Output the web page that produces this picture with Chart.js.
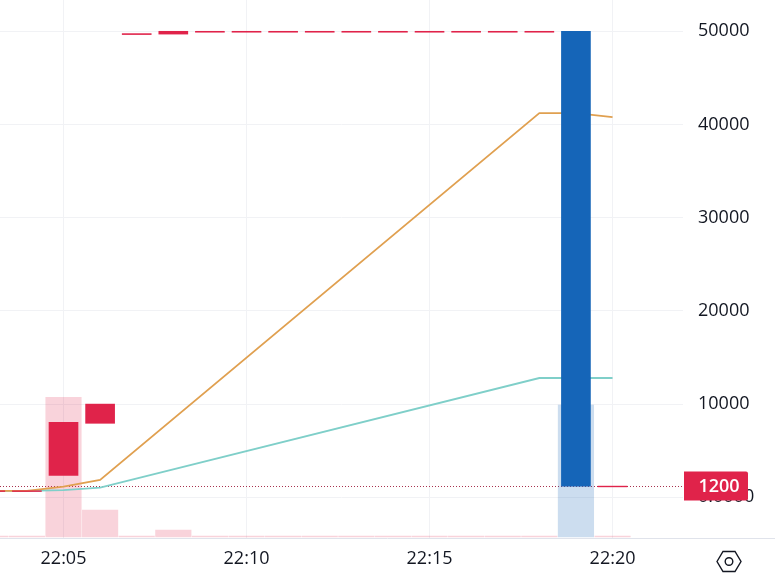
<!DOCTYPE html>
<html>
<head>
<meta charset="utf-8">
<script src="https://cdn.jsdelivr.net/npm/chart.js@4"></script>
<style>
    html, body { margin: 0; padding: 0; background: #fff; }
    canvas { display: block; }
</style>
</head>
<body>
<canvas id="chart" width="775" height="583"></canvas>
<script>
// minutes after 22:00
const minutes = [3, 4, 5, 6, 7, 8, 9, 10, 11, 12, 13, 14, 15, 16, 17, 18, 19, 20];

const openValues =  [620, 620, 2360, 7940, 49650, 49700, 49900, 49900, 49900, 49900, 49900, 49900, 49900, 49900, 49900, 49900, 50000, 1120];
const closeValues = [700, 700, 8050, 10000, 49750, 50000, 50000, 50000, 50000, 50000, 50000, 50000, 50000, 50000, 50000, 50000, 1200, 1200];
const volumeValues = [10, 10, 1397, 270, 10, 70, 10, 10, 10, 10, 10, 10, 10, 10, 10, 10, 1320, 10];

const orangeLine = [680, 680, 1140, 1856, null, null, null, null, null, null, null, null, null, null, null, 41230, 41230, 40800];
const tealLine = [680, 680, 780, 1030, null, null, null, null, null, null, null, null, null, null, null, 12800, 12800, 12800];

const lastPrice = 1200;
const priceTicks = [0, 10000, 20000, 30000, 40000, 50000];

const UP = '#e0234a';
const DOWN = '#1565b8';
const UP_VOL = 'rgba(226, 35, 74, 0.2)';
const DOWN_VOL = 'rgba(21, 101, 184, 0.22)';
const GRID = '#f1f2f5';
const TEXT = '#131722';
const FONT = '"Open Sans", sans-serif';

const isUp = minutes.map((_, i) => closeValues[i] >= openValues[i]);

function clipTicks(scale) {
    scale.ticks = scale.ticks.filter(t => t.value >= scale.min && t.value <= scale.max);
}

// labels may overflow the plot, so the layout must not reserve room for them
function noPadding(scale) {
    scale.paddingTop = scale.paddingBottom = scale.paddingLeft = scale.paddingRight = 0;
}

// dotted last price line, under the bars
const priceLine = {
    id: 'priceLine',
    beforeDatasetsDraw(chart) {
        const { ctx, chartArea, scales } = chart;
        const y = Math.round(scales.y.getPixelForValue(lastPrice)) + 0.5;
        ctx.save();
        ctx.strokeStyle = '#a8324e';
        ctx.lineWidth = 1;
        ctx.setLineDash([1, 2]);
        ctx.beginPath();
        ctx.moveTo(chartArea.left, y);
        ctx.lineTo(chartArea.right, y);
        ctx.stroke();
        ctx.restore();
    }
};

// price tag, bottom rule and the settings hexagon
const overlay = {
    id: 'overlay',
    afterDraw(chart) {
        const { ctx, chartArea, scales, width } = chart;
        const y = scales.y.getPixelForValue(lastPrice);
        ctx.save();

        ctx.strokeStyle = '#e0e3eb';
        ctx.lineWidth = 1;
        ctx.beginPath();
        ctx.moveTo(0, chartArea.bottom + 0.5);
        ctx.lineTo(width, chartArea.bottom + 0.5);
        ctx.stroke();

        ctx.fillStyle = UP;
        ctx.beginPath();
        ctx.roundRect(chartArea.right + 1, y - 14.5, 64, 29, [0, 2, 2, 0]);
        ctx.fill();
        ctx.fillStyle = '#fff';
        ctx.font = '600 18px ' + FONT;
        ctx.textAlign = 'center';
        ctx.textBaseline = 'middle';
        ctx.fillText(String(lastPrice), chartArea.right + 36, y + 1);

        const cx = 729, cy = 561.5;
        ctx.strokeStyle = TEXT;
        ctx.lineWidth = 1.4;
        ctx.beginPath();
        ctx.moveTo(cx - 12, cy);
        ctx.lineTo(cx - 6, cy - 10);
        ctx.lineTo(cx + 6, cy - 10);
        ctx.lineTo(cx + 12, cy);
        ctx.lineTo(cx + 6, cy + 10);
        ctx.lineTo(cx - 6, cy + 10);
        ctx.closePath();
        ctx.stroke();
        ctx.beginPath();
        ctx.arc(cx, cy, 3.8, 0, Math.PI * 2);
        ctx.stroke();
        ctx.restore();
    }
};

new Chart(document.getElementById('chart'), {
    data: {
        datasets: [
            {
                type: 'bar',
                label: 'Price',
                order: 1,
                grouped: false,
                barThickness: 29,
                yAxisID: 'y',
                data: minutes.map((m, i) => ({ x: m, y: [openValues[i], closeValues[i]] })),
                backgroundColor: isUp.map(up => up ? UP : DOWN)
            },
            {
                type: 'line',
                label: 'Slow',
                order: 2,
                yAxisID: 'y',
                spanGaps: true,
                pointRadius: 0,
                borderWidth: 1.8,
                borderColor: '#e0a050',
                data: minutes.map((m, i) => ({ x: m, y: orangeLine[i] }))
            },
            {
                type: 'line',
                label: 'Fast',
                order: 2,
                yAxisID: 'y',
                spanGaps: true,
                pointRadius: 0,
                borderWidth: 1.8,
                borderColor: '#7fcfc9',
                data: minutes.map((m, i) => ({ x: m, y: tealLine[i] }))
            },
            {
                type: 'bar',
                label: 'Volume',
                order: 3,
                grouped: false,
                barThickness: 35.5,
                yAxisID: 'yVol',
                data: minutes.map((m, i) => ({ x: m, y: volumeValues[i] })),
                backgroundColor: isUp.map(up => up ? UP_VOL : DOWN_VOL)
            }
        ]
    },
    options: {
        responsive: false,
        animation: false,
        layout: { padding: 0 },
        plugins: { legend: { display: false }, tooltip: { enabled: false } },
        scales: {
            x: {
                type: 'linear',
                offset: false,
                min: 3.265,
                max: 21.925,
                afterFit(scale) { scale.height = 45; noPadding(scale); },
                afterBuildTicks: clipTicks,
                grid: { color: GRID, drawTicks: false, offset: false },
                border: { display: false },
                ticks: {
                    stepSize: 5,
                    includeBounds: false,
                    maxRotation: 0,
                    autoSkip: false,
                    padding: 10,
                    color: TEXT,
                    font: { family: FONT, size: 18 },
                    callback: v => '22:' + String(v).padStart(2, '0')
                }
            },
            y: {
                type: 'linear',
                position: 'right',
                min: -4367,
                max: 53358,
                afterFit(scale) { scale.width = 92; noPadding(scale); },
                afterBuildTicks(scale) {
                    scale.ticks = priceTicks.map(v => ({ value: v }));
                },
                grid: { color: GRID, drawTicks: false },
                border: { display: false },
                ticks: {
                    padding: 15,
                    color: TEXT,
                    font: { family: FONT, size: 18 },
                    callback: v => v === 0 ? '0.0000' : String(v)
                }
            },
            yVol: {
                type: 'linear',
                display: false,
                min: -10,
                max: 5370
            }
        }
    },
    plugins: [priceLine, overlay]
});
</script>
</body>
</html>
